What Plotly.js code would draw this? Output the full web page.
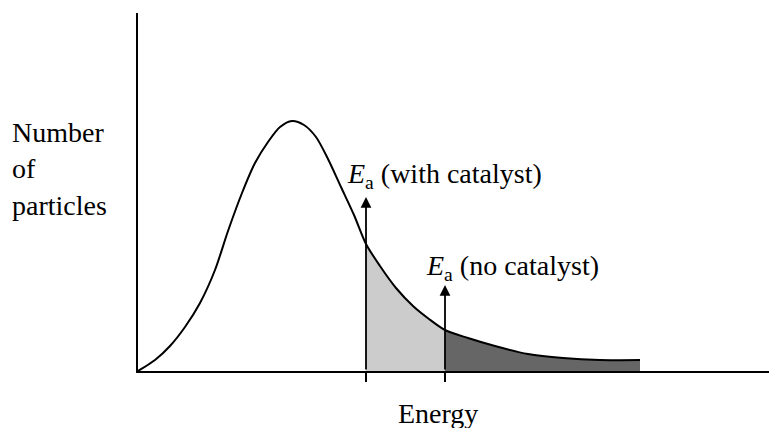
<!DOCTYPE html>
<html>
<head>
<meta charset="utf-8">
<script src="https://cdn.plot.ly/plotly-3.0.1.min.js"></script>
<style>html,body{margin:0;padding:0;background:#fff;}#chart{width:769px;height:428px;}</style>
</head>
<body>
<div id="chart"></div>
<script>
// Energy (arbitrary units) and number of particles (arbitrary units)
const energy    = [0, 17, 32, 47, 62, 77, 90, 104, 117, 130, 142, 154, 166, 178, 190, 203, 216, 228, 242, 258, 275, 291, 307, 330, 357, 390, 425, 462, 502];
const particles = [0, 11, 25, 44, 68, 101, 140, 178, 208, 229, 244, 250, 246, 234, 212, 184, 156, 127, 105, 83, 65, 52, 41, 33, 25, 17, 13, 11, 11];
const eaWith = 228;   // activation energy with catalyst
const eaNo   = 307;   // activation energy without catalyst
const labelWith = "<i>E</i><sub>a</sub> (with catalyst)";
const labelNo   = "<i>E</i><sub>a</sub> (no catalyst)";
const xLabel = "Energy";
const yLabel = "Number<br>of<br>particles";

function seg(lo, hi) {
  const xs = [], ys = [];
  energy.forEach((e, i) => { if (e >= lo && e <= hi) { xs.push(e); ys.push(particles[i]); } });
  return {xs, ys};
}
const light = seg(eaWith, eaNo);
const dark  = seg(eaNo, energy[energy.length - 1]);

const font = {family: "Liberation Serif, Times New Roman, serif", size: 28, color: "#000"};
const sm = 0.8;

const traces = [
  {x: light.xs, y: light.ys, type: "scatter", mode: "lines", fill: "tozeroy",
   fillcolor: "#cccccc", line: {width: 0, shape: "spline", smoothing: sm, color: "rgba(0,0,0,0)"}, hoverinfo: "skip"},
  {x: dark.xs, y: dark.ys, type: "scatter", mode: "lines", fill: "tozeroy",
   fillcolor: "#666666", line: {width: 0, shape: "spline", smoothing: sm, color: "rgba(0,0,0,0)"}, hoverinfo: "skip"},
  {x: energy, y: particles, type: "scatter", mode: "lines", cliponaxis: false,
   line: {color: "#000", width: 2, shape: "spline", smoothing: sm}, hoverinfo: "skip"}
];

const layout = {
  width: 769, height: 428,
  margin: {l: 138, r: 0, t: 13, b: 57},
  paper_bgcolor: "#fff", plot_bgcolor: "#fff",
  showlegend: false,
  font: font,
  xaxis: {range: [0, 631], showline: true, linecolor: "#000", linewidth: 2,
          showgrid: false, zeroline: false, ticks: "outside", tickvals: [eaWith, eaNo],
          ticklen: 9, tickwidth: 2, tickcolor: "#000", showticklabels: false, fixedrange: true},
  yaxis: {range: [0, 358], showline: true, linecolor: "#000", linewidth: 2,
          showgrid: false, zeroline: false, ticks: "", showticklabels: false, fixedrange: true},
  annotations: [
    {x: eaWith, y: 174, xref: "x", yref: "y", ax: eaWith, ay: 0, axref: "x", ayref: "y",
     text: "", showarrow: true, arrowhead: 2, arrowsize: 1.2, arrowwidth: 1.8, arrowcolor: "#000", standoff: 0},
    {x: eaNo, y: 86, xref: "x", yref: "y", ax: eaNo, ay: 0, axref: "x", ayref: "y",
     text: "", showarrow: true, arrowhead: 2, arrowsize: 1.2, arrowwidth: 1.8, arrowcolor: "#000", standoff: 0},
    {x: 207, y: 176, xref: "x", yref: "y", xanchor: "left", yanchor: "bottom",
     text: labelWith, showarrow: false, font: font},
    {x: 286, y: 84, xref: "x", yref: "y", xanchor: "left", yanchor: "bottom",
     text: labelNo, showarrow: false, font: font},
    {x: (396 - 138) / 631, y: -0.07, xref: "paper", yref: "paper", xanchor: "left", yanchor: "top",
     text: xLabel, showarrow: false, font: font},
    {x: (10 - 138) / 631, y: (371 - 169) / 358, xref: "paper", yref: "paper", xanchor: "left", yanchor: "middle",
     align: "left", text: yLabel, showarrow: false, font: font}
  ]
};

Plotly.newPlot("chart", traces, layout, {staticPlot: true, displayModeBar: false});
</script>
</body>
</html>
